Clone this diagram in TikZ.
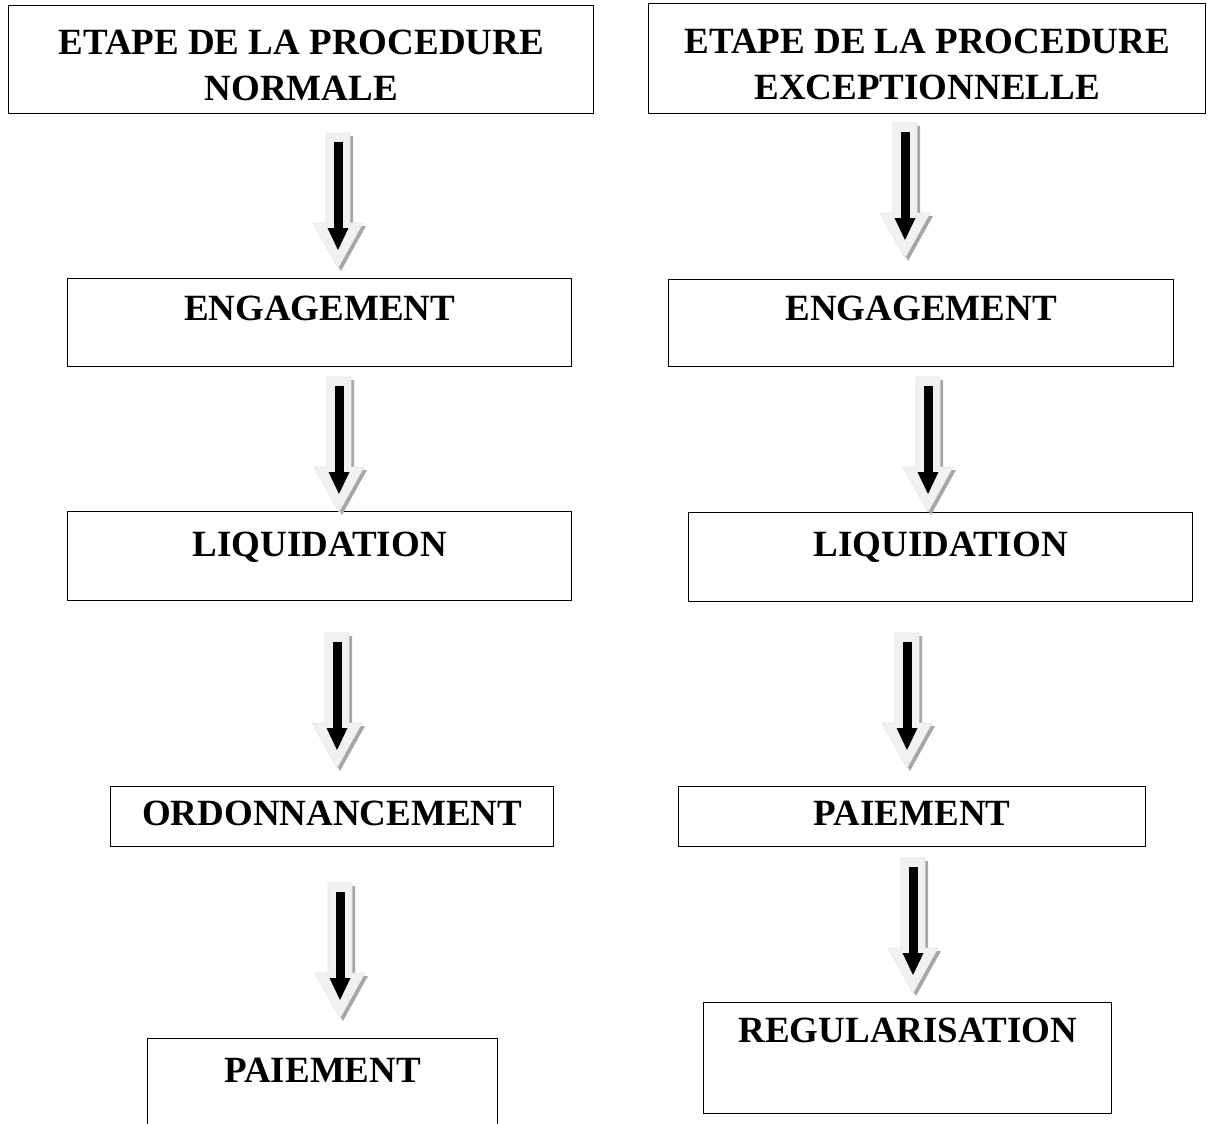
\documentclass[tikz,border=0pt]{standalone}
\usepackage{fontspec}
\setmainfont{Liberation Serif}
\usepackage{xcolor}
\usepackage{tikz}

\definecolor{flecheclair}{HTML}{F1F1F1}
\definecolor{flecheombre}{HTML}{A6A6A6}

\begin{document}
\begin{tikzpicture}[
		x=1pt, y=-1pt,
		font=\fontsize{37}{46}\selectfont\bfseries,
		box/.style={draw, line width=1.4pt, inner sep=0pt, anchor=north west,
				text height=24.5pt, text depth=#1},
		titre/.style={draw, line width=1.4pt, inner sep=0pt, anchor=north west,
				align=center, text height=82.5pt},
		fleche/.pic={
				\fill[flecheombre, xshift=3pt, yshift=-3pt] (-12,0) -- (12,0) -- (12,90) -- (25,90) -- (0,135) -- (-25,90) -- (-12,90) -- cycle;
				\filldraw[fill=flecheclair, draw=gray!20, line width=0.6pt] (-12,0) -- (12,0) -- (12,90) -- (25,90) -- (0,135) -- (-25,90) -- (-12,90) -- cycle;
				\fill[black] (-4.5,9) rectangle (4.5,96);
				\fill[black] (-10.5,95) -- (10.5,95) -- (0,117) -- cycle;
			}
		]
		\useasboundingbox (0,0) rectangle (1216,1124);
		% procedure normale
		\node[titre, minimum width=585pt, minimum height=108pt] (titreN) at (8,5) {ETAPE DE LA PROCEDURE\\ NORMALE};
		\node[box=28pt, minimum width=504pt, minimum height=88pt] (engN) at (67,278) {ENGAGEMENT};
		\node[box=23pt, minimum width=504pt, minimum height=89pt] (liqN) at (67,511) {LIQUIDATION};
		\node[box=6pt, minimum width=443pt, minimum height=60pt] (ordN) at (110,786) {ORDONNANCEMENT};
		\node[box=48pt, minimum width=350pt, minimum height=112pt] (paiN) at (147,1038) {PAIEMENT};
		% procedure exceptionnelle
		\node[titre, minimum width=557pt, minimum height=110pt] (titreE) at (648,3) {ETAPE DE LA PROCEDURE\\ EXCEPTIONNELLE};
		\node[box=29pt, minimum width=505pt, minimum height=87pt] (engE) at (668,279) {ENGAGEMENT};
		\node[box=25pt, minimum width=504pt, minimum height=89pt] (liqE) at (688,512) {LIQUIDATION};
		\node[box=6pt, minimum width=467pt, minimum height=60pt] (paiE) at (678,786) {PAIEMENT};
		\node[box=55pt, minimum width=408pt, minimum height=111pt] (regE) at (703,1002) {REGULARISATION};
		% fleches
		\foreach \ax/\ay in {338/133, 339/377, 337/633, 340/883, 905/123, 928/377, 907/633, 913/858}
		\pic at (\ax,\ay) {fleche};
	\end{tikzpicture}
\end{document}
